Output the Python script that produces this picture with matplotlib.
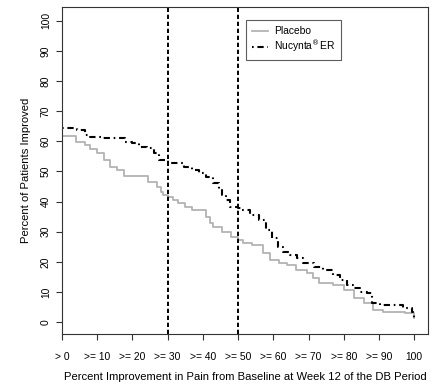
import matplotlib
matplotlib.use("Agg")
from matplotlib import pyplot as plt

# percent improvement thresholds where each curve steps down
placebo_x = [0, 4, 6.5, 8, 10, 12, 13.5, 15.5, 17.5, 24.5, 27, 28, 28.7, 30, 31.5, 33, 35, 37,
             41, 42, 43, 45.5, 48, 50, 51.5, 54, 57, 59, 61.5, 64, 66.5, 69.5, 71.3, 73, 77,
             80, 82.8, 85.6, 88.4, 91, 97.4, 100]
placebo_y = [61.8, 59.9, 58.8, 57.5, 56, 53.8, 51.6, 50.5, 48.6, 46.6, 45, 43.3, 42.3, 41.5, 40.4,
             39.5, 38.3, 37.2, 35, 33, 31.7, 30, 28.4, 27.3, 26.3, 25.6, 23, 20.6, 19.6, 19, 17.3,
             16.3, 14.7, 13, 12.4, 10.7, 8, 6.4, 4, 3.4, 3, 1.4]

er_x = [0, 4.3, 6.5, 8, 11, 18, 20, 22, 24, 26, 27.5, 30, 31, 34.5, 37, 39, 41, 43, 44.5, 45.5,
        46.5, 47.7, 50, 51, 53.4, 56, 58, 59.6, 61.4, 62.8, 64.8, 66.7, 68.5, 71.4, 74.2, 77, 79,
        80.9, 82.7, 84.7, 86.6, 88, 90.3, 94, 96.9, 99.3, 100]
er_y = [64.3, 63.8, 62.1, 61.5, 61, 59.9, 59.3, 58.2, 57.7, 56, 53.8, 52.8, 52.7, 51.6, 50.5, 49.4,
        48.3, 46, 43.9, 42.2, 40.6, 38.3, 38.0, 37.2, 35.6, 33.9, 30.6, 27.8, 25, 23.4, 22.3, 21.2,
        19.6, 18.4, 17.3, 15.7, 14, 12.4, 11.3, 10.1, 9.6, 6.3, 5.7, 5.7, 4.6, 3.5, 1.5]

x_ticks = [0, 10, 20, 30, 40, 50, 60, 70, 80, 90, 100]
x_labels = ["> 0", ">= 10", ">= 20", ">= 30", ">= 40", ">= 50", ">= 60", ">= 70", ">= 80",
            ">= 90", "100"]
y_ticks = [0, 10, 20, 30, 40, 50, 60, 70, 80, 90, 100]
cutoffs = [30, 50]

plt.rcParams['font.family'] = ['Liberation Sans Narrow', 'Liberation Sans', 'DejaVu Sans']
plt.rcParams['mathtext.fontset'] = 'custom'
plt.rcParams['mathtext.rm'] = 'Liberation Sans Narrow'

fig = plt.figure(figsize=(4.4, 3.91), dpi=100)
ax = fig.add_axes([0.1409, 0.1458, 0.831, 0.8362])

ax.step(placebo_x, placebo_y, where='post', color='#b3b3b3', lw=1.3, label='Placebo')
ax.step(er_x, er_y, where='post', color='black', lw=1.5,
        linestyle=(0, (0.8, 1.8, 3, 1.8)), label='Nucynta$^{\\mathrm{\u00ae}}$ER')
for c in cutoffs:
    ax.axvline(c, color='black', lw=1.4, linestyle=(0, (2.2, 1.4)))

ax.set_xlim(0, 103.8)
ax.set_ylim(-3.9, 104.5)
ax.set_xticks(x_ticks)
ax.set_xticklabels(x_labels)
ax.set_yticks(y_ticks)
ax.set_yticklabels([str(t) for t in y_ticks], rotation=90, va='center')
ax.tick_params(axis='both', labelsize=7.4, length=4, width=0.8, color='#333333')
ax.tick_params(axis='x', pad=9)
ax.tick_params(axis='y', pad=4)
for s in ax.spines.values():
    s.set_linewidth(0.8)
    s.set_color('#333333')

ax.set_xlabel('Percent Improvement in Pain from Baseline at Week 12 of the DB Period',
              fontsize=8.1, labelpad=7)
ax.set_ylabel('Percent of Patients Improved', fontsize=8.1, labelpad=7)

leg = ax.legend(loc='upper left', bbox_to_anchor=(0.502, 0.960), borderaxespad=0,
                fontsize=7.4, frameon=True, fancybox=False, handlelength=1.6,
                handletextpad=0.6, borderpad=0.6, labelspacing=0.2)
leg.get_frame().set_edgecolor('#333333')
leg.get_frame().set_linewidth(0.8)

fig.savefig('out.png', dpi=100)
